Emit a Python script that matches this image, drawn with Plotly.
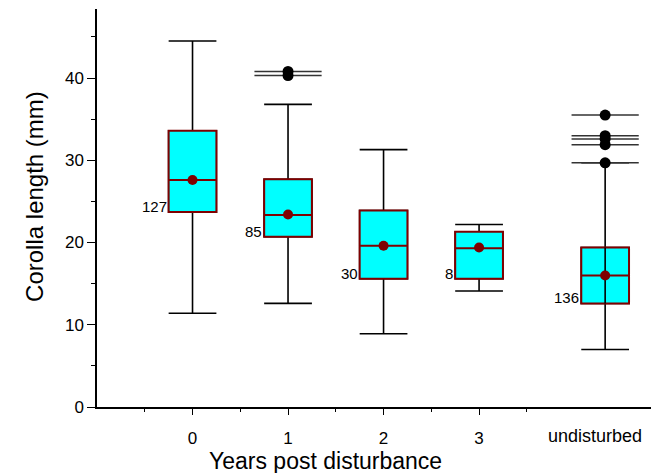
import plotly.graph_objects as go

# ---- data ----
groups = ["0", "1", "2", "3", "undisturbed"]
group_pos = [0, 1, 2, 3, 4.32]
q1 = [23.7, 20.7, 15.6, 15.6, 12.6]
median = [27.6, 23.35, 19.6, 19.3, 16.0]
q3 = [33.6, 27.7, 23.9, 21.3, 19.4]
lower_whisker = [11.4, 12.6, 8.9, 14.1, 7.0]
upper_whisker = [44.5, 36.8, 31.3, 22.2, 29.7]
means = [27.6, 23.4, 19.6, 19.4, 16.0]
n_obs = [127, 85, 30, 8, 136]
outliers = {
    "1": [40.8, 40.3],
    "undisturbed": [35.5, 33.0, 32.6, 31.9, 29.7],
}

y_ticks = [0, 10, 20, 30, 40]
x_ticks = [0, 1, 2, 3]
x_tick_labels = ["0", "1", "2", "3"]
x_minor_ticks = [-0.5, 0.5, 1.5, 2.5, 3.5]

FONT = "Liberation Sans, Arial, sans-serif"
CYAN = "#00FFFF"
MAROON = "#7F0000"
BOX_W = 0.5

fig = go.Figure()

# whiskers (black)
fig.add_trace(go.Box(
    x=group_pos, q1=q1, median=median, q3=q3,
    lowerfence=lower_whisker, upperfence=upper_whisker,
    width=BOX_W, whiskerwidth=1, fillcolor=CYAN,
    line=dict(color="black", width=1.6), boxpoints=False,
    showlegend=False, hoverinfo="skip",
))
# boxes (maroon outline)
fig.add_trace(go.Box(
    x=group_pos, q1=q1, median=median, q3=q3,
    lowerfence=q1, upperfence=q3,
    width=BOX_W, whiskerwidth=1, fillcolor=CYAN,
    line=dict(color=MAROON, width=2), boxpoints=False,
    showlegend=False, hoverinfo="skip",
))

# whisker line through the undisturbed box
i_u = groups.index("undisturbed")
fig.add_trace(go.Scatter(
    x=[group_pos[i_u], group_pos[i_u]], y=[q1[i_u], q3[i_u]],
    mode="lines", line=dict(color="black", width=1.6),
    showlegend=False, hoverinfo="skip",
))

# outliers: horizontal line + dot
ox, oy = [], []
for g, vals in outliers.items():
    p = group_pos[groups.index(g)]
    for v in vals:
        ox.append(p)
        oy.append(v)
fig.add_trace(go.Scatter(
    x=ox, y=oy, mode="markers",
    marker=dict(symbol="line-ew", size=48, line=dict(color="#333333", width=1.5)),
    showlegend=False, hoverinfo="skip",
))
fig.add_trace(go.Scatter(
    x=ox, y=oy, mode="markers",
    marker=dict(symbol="circle", size=11, color="black"),
    showlegend=False, hoverinfo="skip",
))

# means
fig.add_trace(go.Scatter(
    x=group_pos, y=means, mode="markers",
    marker=dict(symbol="circle", size=10, color=MAROON),
    showlegend=False, hoverinfo="skip",
))

# sample sizes
for p, lo, n in zip(group_pos, q1, n_obs):
    fig.add_annotation(
        x=p - BOX_W / 2, y=lo, xref="x", yref="y", text=str(n),
        showarrow=False, xanchor="right", yanchor="bottom", yshift=-5,
        font=dict(family=FONT, size=15, color="black"),
    )

# "undisturbed" label
fig.add_annotation(
    x=4.215, y=-0.074, xref="x", yref="paper", text="undisturbed",
    showarrow=False, xanchor="center", yanchor="middle",
    font=dict(family=FONT, size=18, color="black"),
)
# axis titles
fig.add_annotation(
    x=0.412, y=-0.135, xref="paper", yref="paper", text="Years post disturbance",
    showarrow=False, xanchor="center", yanchor="middle",
    font=dict(family=FONT, size=23, color="black"),
)
fig.add_annotation(
    x=-0.114, y=0.53, xref="paper", yref="paper", text="Corolla length (mm)",
    showarrow=False, xanchor="center", yanchor="middle", textangle=-90,
    font=dict(family=FONT, size=24, color="black"),
)

fig.update_layout(
    width=651, height=473,
    margin=dict(l=97, r=0, t=9, b=66),
    paper_bgcolor="white", plot_bgcolor="white",
    boxmode="overlay",
    font=dict(family=FONT, size=16, color="black"),
    xaxis=dict(
        range=[-1, 4.8], showgrid=False, zeroline=False,
        showline=True, linecolor="black", linewidth=2,
        tickmode="array", tickvals=x_ticks, ticktext=x_tick_labels,
        ticks="outside", ticklen=6, tickwidth=1, tickcolor="black",
        ticklabelstandoff=9,
        minor=dict(tickmode="array", tickvals=x_minor_ticks, ticks="outside",
                   ticklen=3, tickwidth=1, tickcolor="black"),
        tickfont=dict(family=FONT, size=17),
    ),
    yaxis=dict(
        range=[0, 48.4], showgrid=False, zeroline=False,
        showline=True, linecolor="black", linewidth=1.5,
        tickmode="array", tickvals=y_ticks,
        ticks="outside", ticklen=8, tickwidth=1, tickcolor="black",
        minor=dict(dtick=5, tick0=0, ticks="outside", ticklen=4,
                   tickwidth=1, tickcolor="black"),
        tickfont=dict(family=FONT, size=17),
    ),
)

fig.write_html("out.html")
